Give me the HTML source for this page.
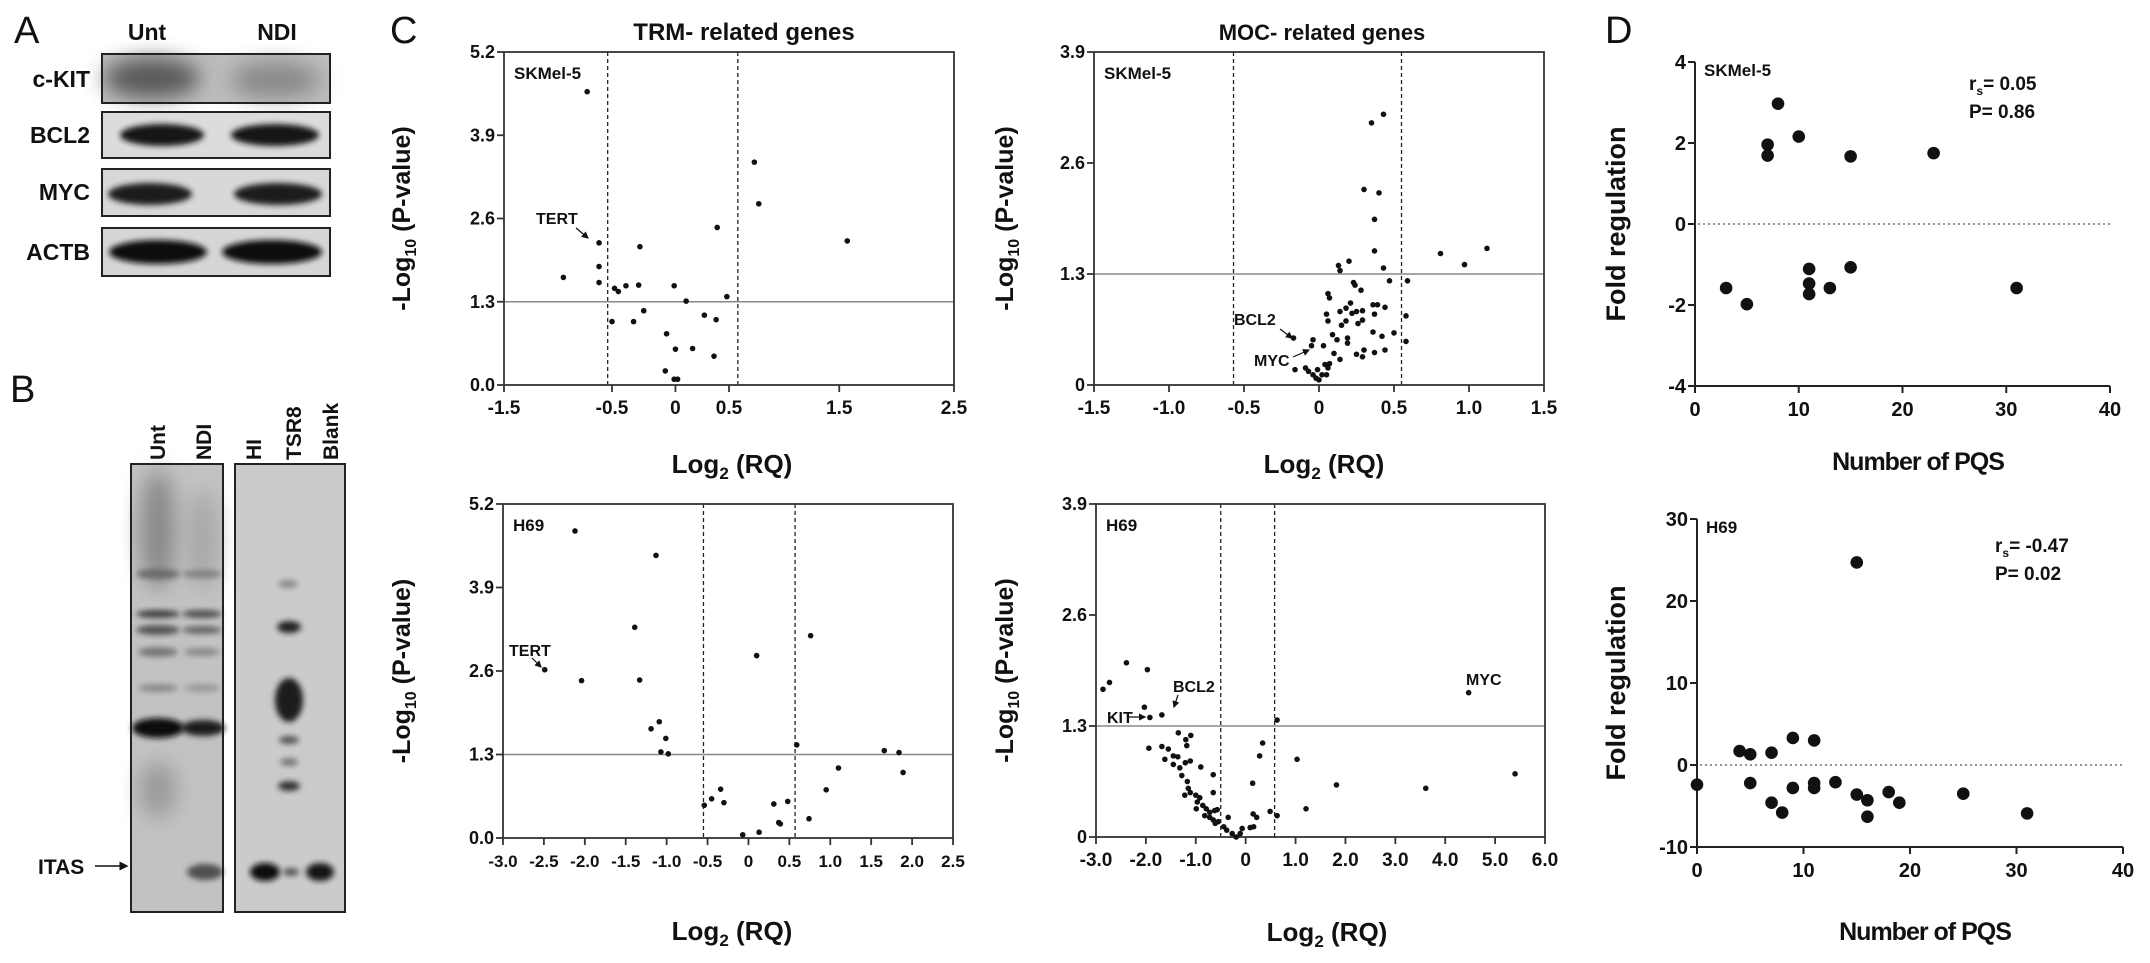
<!DOCTYPE html>
<html><head><meta charset="utf-8"><style>
html,body{margin:0;padding:0;background:#fff;}
svg{display:block;}
text{font-family:"Liberation Sans",Arial,sans-serif;font-weight:bold;fill:#111;}
.n{font-family:"Liberation Sans Narrow","Liberation Sans",sans-serif;}
</style></head><body>
<svg id="fig" width="2150" height="963" viewBox="0 0 2150 963" xmlns="http://www.w3.org/2000/svg">
<defs>
<filter id="b3" x="-50%" y="-50%" width="200%" height="200%"><feGaussianBlur stdDeviation="3"/></filter>
<filter id="b6" x="-50%" y="-50%" width="200%" height="200%"><feGaussianBlur stdDeviation="6"/></filter>
<filter id="b10" x="-50%" y="-50%" width="200%" height="200%"><feGaussianBlur stdDeviation="10"/></filter>
<marker id="ah" markerWidth="6" markerHeight="6" refX="5" refY="3" orient="auto"><path d="M0,0 L6,3 L0,6 Z" fill="#111"/></marker>
</defs>

<!-- Panel A -->
<g>
<text x="14" y="43" font-size="38" style="font-weight:normal">A</text>
<text x="147" y="40" font-size="23" text-anchor="middle">Unt</text>
<text x="277" y="40" font-size="23" text-anchor="middle">NDI</text>
<text x="90" y="87" font-size="23" text-anchor="end">c-KIT</text>
<text x="90" y="143" font-size="23" text-anchor="end">BCL2</text>
<text x="90" y="200" font-size="23" text-anchor="end">MYC</text>
<text x="90" y="260" font-size="23" text-anchor="end">ACTB</text>
<g>
<rect x="102" y="54" width="228" height="49" fill="#bdbdbd"/>
<ellipse cx="152" cy="78" rx="48" ry="20" fill="#5a5a5a" filter="url(#b10)"/>
<ellipse cx="275" cy="80" rx="45" ry="18" fill="#8a8a8a" filter="url(#b10)"/>
<rect x="102" y="54" width="228" height="49" fill="none" stroke="#222" stroke-width="2"/>
</g>
<g>
<rect x="102" y="112" width="228" height="46" fill="#dcdcdc"/>
<ellipse cx="162" cy="135" rx="42" ry="11" fill="#151515" filter="url(#b3)"/>
<ellipse cx="275" cy="135" rx="44" ry="11" fill="#151515" filter="url(#b3)"/>
<rect x="102" y="112" width="228" height="46" fill="none" stroke="#222" stroke-width="2"/>
</g>
<g>
<rect x="102" y="169" width="228" height="47" fill="#d8d8d8"/>
<ellipse cx="150" cy="194" rx="42" ry="11" fill="#1a1a1a" filter="url(#b3)"/>
<ellipse cx="278" cy="194" rx="44" ry="11" fill="#1a1a1a" filter="url(#b3)"/>
<rect x="102" y="169" width="228" height="47" fill="none" stroke="#222" stroke-width="2"/>
</g>
<g>
<rect x="102" y="228" width="228" height="48" fill="#d6d6d6"/>
<ellipse cx="158" cy="252" rx="49" ry="12" fill="#111" filter="url(#b3)"/>
<ellipse cx="272" cy="252" rx="50" ry="12" fill="#111" filter="url(#b3)"/>
<rect x="102" y="228" width="228" height="48" fill="none" stroke="#222" stroke-width="2"/>
</g>
</g>

<!-- Panel B -->
<g>
<text x="10" y="402" font-size="38" style="font-weight:normal">B</text>
<text transform="translate(165,460) rotate(-90)" font-size="21">Unt</text>
<text transform="translate(211,460) rotate(-90)" font-size="21">NDI</text>
<text transform="translate(261,460) rotate(-90)" font-size="21">HI</text>
<text transform="translate(301,460) rotate(-90)" font-size="21">TSR8</text>
<text transform="translate(338,460) rotate(-90)" font-size="21">Blank</text>
<g>
<rect x="131" y="464" width="92" height="448" fill="#c2c2c2"/>
<ellipse cx="158" cy="530" rx="18" ry="60" fill="#8a8a8a" filter="url(#b10)"/>
<ellipse cx="202" cy="540" rx="16" ry="50" fill="#a8a8a8" filter="url(#b10)"/>
<ellipse cx="158" cy="574" rx="22" ry="5" fill="#6a6a6a" filter="url(#b3)"/>
<ellipse cx="202" cy="574" rx="20" ry="4" fill="#808080" filter="url(#b3)"/>
<ellipse cx="158" cy="614" rx="22" ry="4" fill="#404040" filter="url(#b3)"/>
<ellipse cx="202" cy="614" rx="20" ry="4" fill="#505050" filter="url(#b3)"/>
<ellipse cx="158" cy="630" rx="22" ry="5" fill="#555" filter="url(#b3)"/>
<ellipse cx="202" cy="630" rx="20" ry="4" fill="#666" filter="url(#b3)"/>
<ellipse cx="158" cy="652" rx="20" ry="5" fill="#777" filter="url(#b3)"/>
<ellipse cx="202" cy="652" rx="18" ry="4" fill="#888" filter="url(#b3)"/>
<ellipse cx="158" cy="688" rx="20" ry="4" fill="#8a8a8a" filter="url(#b3)"/>
<ellipse cx="202" cy="688" rx="18" ry="4" fill="#999" filter="url(#b3)"/>
<ellipse cx="158" cy="728" rx="26" ry="10" fill="#111" filter="url(#b3)"/>
<ellipse cx="203" cy="728" rx="22" ry="8" fill="#1a1a1a" filter="url(#b3)"/>
<ellipse cx="158" cy="790" rx="18" ry="28" fill="#9a9a9a" filter="url(#b10)"/>
<ellipse cx="205" cy="872" rx="18" ry="8" fill="#505050" filter="url(#b3)"/>
<rect x="131" y="464" width="92" height="448" fill="none" stroke="#222" stroke-width="2"/>
</g>
<g>
<rect x="235" y="464" width="110" height="448" fill="#cbcbcb"/>
<ellipse cx="288" cy="584" rx="10" ry="4" fill="#888" filter="url(#b3)"/>
<ellipse cx="289" cy="627" rx="12" ry="6" fill="#222" filter="url(#b3)"/>
<ellipse cx="289" cy="700" rx="14" ry="22" fill="#1a1a1a" filter="url(#b3)"/>
<ellipse cx="289" cy="740" rx="10" ry="4" fill="#555" filter="url(#b3)"/>
<ellipse cx="289" cy="762" rx="9" ry="4" fill="#777" filter="url(#b3)"/>
<ellipse cx="289" cy="786" rx="11" ry="5" fill="#333" filter="url(#b3)"/>
<ellipse cx="265" cy="872" rx="15" ry="9" fill="#111" filter="url(#b3)"/>
<ellipse cx="291" cy="872" rx="8" ry="4" fill="#555" filter="url(#b3)"/>
<ellipse cx="320" cy="872" rx="14" ry="9" fill="#151515" filter="url(#b3)"/>
<rect x="235" y="464" width="110" height="448" fill="none" stroke="#222" stroke-width="2"/>
</g>
<text x="38" y="874" font-size="21">ITAS</text>
<line x1="95" y1="866" x2="127" y2="866" stroke="#111" stroke-width="1.5" marker-end="url(#ah)"/>
</g>

<text x="390" y="43" font-size="38" style="font-weight:normal">C</text>
<text x="1605" y="43" font-size="38" style="font-weight:normal">D</text>
<text x="744" y="40" class="n" font-size="24" text-anchor="middle">TRM- related genes</text>
<text x="1322" y="40" font-size="22" text-anchor="middle">MOC- related genes</text>

<g id="charts"></g>
</svg>
<script>
// ---------- Data ----------
// TRM SKMel-5
const trmSkX = [-0.73,0.73,0.77,0.39,1.57,-0.62,-0.28,-0.62,-0.95,-0.62,-0.48,-0.45,-0.39,-0.29,-0.01,0.48,0.10,-0.25,-0.50,-0.33,0.27,0.38,-0.07,0.00,0.16,0.36,-0.08,-0.01,0.02];
const trmSkY = [4.58,3.48,2.83,2.46,2.25,2.22,2.16,1.85,1.68,1.60,1.51,1.46,1.55,1.56,1.55,1.38,1.31,1.16,0.99,0.99,1.09,1.02,0.80,0.56,0.57,0.45,0.22,0.09,0.09];
// MOC SKMel-5
const mocSkX = [0.43,0.35,0.30,0.40,0.37,0.37,0.81,1.12,0.97,0.20,0.13,0.14,0.43,0.47,0.59,0.23,0.24,0.28,0.06,0.07,0.14,0.21,0.18,0.22,0.25,0.29,0.36,0.39,0.44,0.37,0.05,0.06,0.18,0.15,0.26,0.29,0.58,0.09,0.12,0.19,0.19,0.36,0.42,0.50,0.58,0.03,-0.04,-0.05,-0.17,0.10,0.14,0.25,0.30,0.29,0.37,0.44,-0.16,-0.09,-0.07,-0.04,-0.02,0.00,0.02,0.04,0.07,0.05,0.06,-0.01];
const mocSkY = [3.17,3.07,2.29,2.25,1.94,1.57,1.54,1.60,1.41,1.45,1.40,1.34,1.37,1.22,1.22,1.20,1.17,1.11,1.07,1.02,0.86,0.96,0.90,0.84,0.86,0.87,0.94,0.94,0.91,0.83,0.83,0.75,0.75,0.70,0.72,0.76,0.81,0.59,0.53,0.55,0.49,0.62,0.57,0.61,0.51,0.46,0.53,0.46,0.55,0.37,0.30,0.36,0.41,0.33,0.38,0.41,0.18,0.20,0.16,0.12,0.08,0.06,0.12,0.24,0.25,0.12,0.20,0.18];
// TRM H69
const trmH69X = [-2.12,-1.13,-1.39,0.76,0.10,-2.49,-2.04,-1.33,-1.09,-1.19,-1.01,0.59,-1.07,-0.98,1.66,1.84,1.89,1.10,0.95,-0.34,-0.45,-0.54,-0.30,0.31,0.48,0.37,0.39,0.74,-0.07,0.13];
const trmH69Y = [4.78,4.40,3.28,3.15,2.84,2.62,2.45,2.46,1.81,1.70,1.55,1.45,1.34,1.31,1.36,1.33,1.02,1.09,0.75,0.76,0.61,0.51,0.55,0.53,0.57,0.24,0.22,0.30,0.05,0.09];
// MOC H69
const mocH69X = [-2.39,-1.97,-2.73,-2.86,4.47,-2.03,-1.68,-1.92,0.63,-1.35,-1.10,-1.20,-1.18,0.34,-1.94,-1.68,-1.55,-1.45,-1.36,-1.62,-1.11,-1.21,-1.45,-1.32,0.28,1.03,-0.90,-0.65,5.40,-1.28,-1.17,0.14,1.82,3.61,-1.15,-0.65,-1.22,-1.11,-1.00,-0.92,-0.97,-0.86,-0.99,-0.79,-0.72,-0.62,-0.57,-0.82,-0.72,-0.65,-0.55,-0.61,-0.35,-0.44,-0.38,-0.27,-0.19,-0.11,-0.07,0.09,0.16,0.15,0.22,0.49,0.63,1.21];
const mocH69Y = [2.04,1.96,1.81,1.73,1.69,1.52,1.43,1.40,1.37,1.22,1.19,1.14,1.07,1.10,1.04,1.06,1.03,0.95,0.94,0.91,0.89,0.87,0.85,0.81,0.95,0.91,0.82,0.73,0.74,0.72,0.65,0.63,0.61,0.57,0.57,0.52,0.49,0.52,0.49,0.46,0.41,0.37,0.33,0.33,0.29,0.31,0.32,0.25,0.23,0.20,0.18,0.16,0.23,0.12,0.08,0.04,0.00,0.04,0.10,0.11,0.12,0.27,0.23,0.30,0.25,0.33];
// D SKMel-5
const pqsSkX = [8,10,7,7,15,23,3,5,11,11,11,13,15,31];
const pqsSkY = [2.97,2.16,1.96,1.69,1.67,1.75,-1.58,-1.98,-1.11,-1.47,-1.73,-1.58,-1.07,-1.58];
// D H69
const pqsH69X = [15,4,5,7,9,11,0,5,7,8,9,11,11,13,15,16,16,18,19,25,31];
const pqsH69Y = [24.7,1.7,1.3,1.5,3.3,3.0,-2.4,-2.2,-4.6,-5.8,-2.8,-2.2,-2.8,-2.1,-3.6,-4.3,-6.3,-3.3,-4.6,-3.5,-5.9];
// Tick labels
const trmSkXTicks = [-1.5,-0.5,0,0.5,1.5,2.5];
const trmSkXTickLabels = ["-1.5","-0.5","0","0.5","1.5","2.5"];
const trmYTicks = [0,1.3,2.6,3.9,5.2];
const trmYTickLabels = ["0.0","1.3","2.6","3.9","5.2"];
const mocYTicks = [0,1.3,2.6,3.9];
const mocYTickLabels = ["0","1.3","2.6","3.9"];
const mocSkXTicks = [-1.5,-1.0,-0.5,0,0.5,1.0,1.5];
const mocSkXTickLabels = ["-1.5","-1.0","-0.5","0","0.5","1.0","1.5"];
const trmH69XTicks = [-3,-2.5,-2,-1.5,-1,-0.5,0,0.5,1,1.5,2,2.5];
const trmH69XTickLabels = ["-3.0","-2.5","-2.0","-1.5","-1.0","-0.5","0","0.5","1.0","1.5","2.0","2.5"];
const mocH69XTicks = [-3,-2,-1,0,1,2,3,4,5,6];
const mocH69XTickLabels = ["-3.0","-2.0","-1.0","0","1.0","2.0","3.0","4.0","5.0","6.0"];
const pqsXTicks = [0,10,20,30,40];
const pqsSkYTicks = [-4,-2,0,2,4];
const pqsH69YTicks = [-10,0,10,20,30];

// ---------- Helpers ----------
const NS = "http://www.w3.org/2000/svg";
const root = document.getElementById('charts');
function mk(tag, attrs, parent) {
  const e = document.createElementNS(NS, tag);
  for (const k in attrs) e.setAttribute(k, attrs[k]);
  (parent || root).appendChild(e);
  return e;
}
function linScale(d0, d1, r0, r1) { return v => r0 + (v - d0) / (d1 - d0) * (r1 - r0); }
function pieceScale(domain, fracs, r0, r1) {
  return v => {
    let i = 0;
    while (i < domain.length - 2 && v > domain[i + 1]) i++;
    const f = fracs[i] + (v - domain[i]) / (domain[i + 1] - domain[i]) * (fracs[i + 1] - fracs[i]);
    return r0 + f * (r1 - r0);
  };
}

function volcano(cfg) {
  const g = mk('g', {});
  
  
  const {L, R, T, B, sx, sy} = cfg;
  // hline 1.3
  const hl = mk('line', {x1: L, x2: R, y1: sy(1.3), y2: sy(1.3), stroke: '#888', 'stroke-width': 1.5}, g);
  
  
  cfg.dash.forEach(v => {
    const dl = mk('line', {x1: sx(v), x2: sx(v), y1: T, y2: B, stroke: '#222', 'stroke-width': 1.3, 'stroke-dasharray': '4,3'}, g);
    
    
  });
  const box = mk('rect', {x: L, y: T, width: R - L, height: B - T, fill: 'none', stroke: '#333', 'stroke-width': 1.8}, g);
  
  
  cfg.yTicks.forEach((v, i) => {
    mk('line', {x1: L - 7, x2: L, y1: sy(v), y2: sy(v), stroke: '#333', 'stroke-width': 1.8}, g);
    const t = mk('text', {x: L - 9, y: sy(v) + 6, 'font-size': 18, 'text-anchor': 'end', class: 'n'}, g);
    t.textContent = cfg.yLabels[i];
    
    
  });
  cfg.xTicks.forEach((v, i) => {
    mk('line', {x1: sx(v), x2: sx(v), y1: B, y2: B + 7, stroke: '#333', 'stroke-width': 1.8}, g);
    const t = mk('text', {x: sx(v), y: B + 29, 'font-size': cfg.xFont || 19, 'text-anchor': 'middle', class: 'n'}, g);
    t.textContent = cfg.xLabels[i];
    
    
  });
  cfg.xs.forEach((x, i) => {
    const c = mk('circle', {cx: sx(x), cy: sy(cfg.ys[i]), r: 2.8, fill: '#111'}, g);
    
    
  });
  const yl = mk('text', {transform: `translate(${cfg.ylx},${(T + B) / 2}) rotate(-90)`, 'font-size': 25, 'text-anchor': 'middle'}, g);
  yl.innerHTML = '-Log<tspan font-size="16" dy="6">10</tspan><tspan dy="-6">  (P-value)</tspan>';
  
  
  const xl = mk('text', {x: cfg.xlx, y: cfg.xly, 'font-size': 26, 'text-anchor': 'middle', class: 'n'}, g);
  xl.innerHTML = 'Log<tspan font-size="17" dy="6">2</tspan><tspan dy="-6"> (RQ)</tspan>';
  
  
  const cl = mk('text', {x: L + 10, y: T + 27, 'font-size': 17, class: 'n'}, g);
  cl.textContent = cfg.cell;
  
  
  return g;
}
function ann(text, x, y, ax1, ay1, ax2, ay2, size) {
  const t = mk('text', {x: x, y: y, 'font-size': size || 16, class: 'n'});
  t.textContent = text;
  
  
  const l = mk('line', {x1: ax1, y1: ay1, x2: ax2, y2: ay2, stroke: '#111', 'stroke-width': 1.2, 'marker-end': 'url(#ah)'});
  
  
}

// TRM SKMel-5
volcano({name: 'trm-skmel5-volcano', L: 504, R: 954, T: 52, B: 385,
  sx: pieceScale(trmSkXTicks, [0, 0.24, 0.381, 0.5, 0.745, 1], 504, 954), sy: linScale(0, 5.2, 385, 52),
  dash: [-0.54, 0.58], yTicks: trmYTicks, yLabels: trmYTickLabels, xTicks: trmSkXTicks, xLabels: trmSkXTickLabels,
  xs: trmSkX, ys: trmSkY, ylx: 410, xlx: 732, xly: 473, cell: 'SKMel-5'});
ann('TERT', 536, 224, 576, 228, 588, 238);
// MOC SKMel-5
volcano({name: 'moc-skmel5-volcano', L: 1094, R: 1544, T: 52, B: 385,
  sx: linScale(-1.5, 1.5, 1094, 1544), sy: linScale(0, 3.9, 385, 52),
  dash: [-0.57, 0.55], yTicks: mocYTicks, yLabels: mocYTickLabels, xTicks: mocSkXTicks, xLabels: mocSkXTickLabels,
  xs: mocSkX, ys: mocSkY, ylx: 1013, xlx: 1324, xly: 473, cell: 'SKMel-5'});
ann('BCL2', 1234, 325, 1280, 329, 1292, 338);
ann('MYC', 1254, 366, 1293, 357, 1309, 350);
// TRM H69
volcano({name: 'trm-h69-volcano', L: 503, R: 953, T: 504, B: 838,
  sx: linScale(-3, 2.5, 503, 953), sy: linScale(0, 5.2, 838, 504),
  dash: [-0.55, 0.57], yTicks: trmYTicks, yLabels: trmYTickLabels, xTicks: trmH69XTicks, xLabels: trmH69XTickLabels, xFont: 17,
  xs: trmH69X, ys: trmH69Y, ylx: 410, xlx: 732, xly: 940, cell: 'H69'});
ann('TERT', 509, 656, 532, 658, 541, 667);
// MOC H69
volcano({name: 'moc-h69-volcano', L: 1096, R: 1545, T: 504, B: 837,
  sx: linScale(-3, 6, 1096, 1545), sy: linScale(0, 3.9, 837, 504),
  dash: [-0.5, 0.58], yTicks: mocYTicks, yLabels: mocYTickLabels, xTicks: mocH69XTicks, xLabels: mocH69XTickLabels,
  xs: mocH69X, ys: mocH69Y, ylx: 1013, xlx: 1327, xly: 941, cell: 'H69'});
ann('BCL2', 1173, 692, 1178, 695, 1174, 707);
ann('KIT', 1107, 723, 1127, 717, 1145, 717);
(function(){const t = mk('text', {x: 1466, y: 685, 'font-size': 16, class: 'n'}); t.textContent = 'MYC';

})();

function pqs(cfg) {
  const g = mk('g', {});
  
  
  const {L, R, T, B, sx, sy} = cfg;
  const z = mk('line', {x1: L + 3, x2: R, y1: sy(0), y2: sy(0), stroke: '#555', 'stroke-width': 1.3, 'stroke-dasharray': '2,3'}, g);
  
  
  mk('line', {x1: L, x2: L, y1: T, y2: B, stroke: '#222', 'stroke-width': 2}, g);
  mk('line', {x1: L, x2: R, y1: B, y2: B, stroke: '#222', 'stroke-width': 2}, g);
  cfg.yTicks.forEach(v => {
    mk('line', {x1: L - 7, x2: L, y1: sy(v), y2: sy(v), stroke: '#222', 'stroke-width': 2}, g);
    const t = mk('text', {x: L - 9, y: sy(v) + 7, 'font-size': 20, 'text-anchor': 'end'}, g);
    t.textContent = String(v);
    
    
  });
  pqsXTicks.forEach(v => {
    mk('line', {x1: sx(v), x2: sx(v), y1: B, y2: B + 7, stroke: '#222', 'stroke-width': 2}, g);
    const t = mk('text', {x: sx(v), y: B + 30, 'font-size': 20, 'text-anchor': 'middle'}, g);
    t.textContent = String(v);
    
    
  });
  cfg.xs.forEach((x, i) => {
    const c = mk('circle', {cx: sx(x), cy: sy(cfg.ys[i]), r: 6.3, fill: '#111'}, g);
    
    
  });
  const yl = mk('text', {transform: `translate(1625,${(T + B) / 2}) rotate(-90)`, 'font-size': 27, 'text-anchor': 'middle'}, g);
  yl.textContent = 'Fold  regulation';
  
  
  const xl = mk('text', {x: cfg.xlx, y: cfg.xly, 'font-size': 25, 'text-anchor': 'middle', 'letter-spacing': '-1'}, g);
  xl.textContent = 'Number of PQS';
  
  
  const cl = mk('text', {x: L + 9, y: T + 14, 'font-size': 17}, g);
  cl.textContent = cfg.cell;
  
  
  const s1 = mk('text', {x: cfg.sx0, y: cfg.sy0, 'font-size': 19}, g);
  s1.innerHTML = 'r<tspan font-size="12" dy="5">s</tspan><tspan dy="-5">= ' + cfg.rs + '</tspan>';
  
  
  const s2 = mk('text', {x: cfg.sx0, y: cfg.sy0 + 28, 'font-size': 19}, g);
  s2.textContent = 'P=  ' + cfg.p;
  
  
}
pqs({name: 'pqs-skmel5-scatter', L: 1695, R: 2110, T: 62, B: 386,
  sx: linScale(0, 40, 1695, 2110), sy: linScale(-4, 4, 386, 62),
  yTicks: pqsSkYTicks, xs: pqsSkX, ys: pqsSkY, xlx: 1918, xly: 470, cell: 'SKMel-5',
  sx0: 1969, sy0: 90, rs: ' 0.05', p: '0.86'});
pqs({name: 'pqs-h69-scatter', L: 1697, R: 2123, T: 519, B: 847,
  sx: linScale(0, 40, 1697, 2123), sy: linScale(-10, 30, 847, 519),
  yTicks: pqsH69YTicks, xs: pqsH69X, ys: pqsH69Y, xlx: 1925, xly: 940, cell: 'H69',
  sx0: 1995, sy0: 552, rs: '-0.47', p: '0.02'});
</script>
</body></html>
